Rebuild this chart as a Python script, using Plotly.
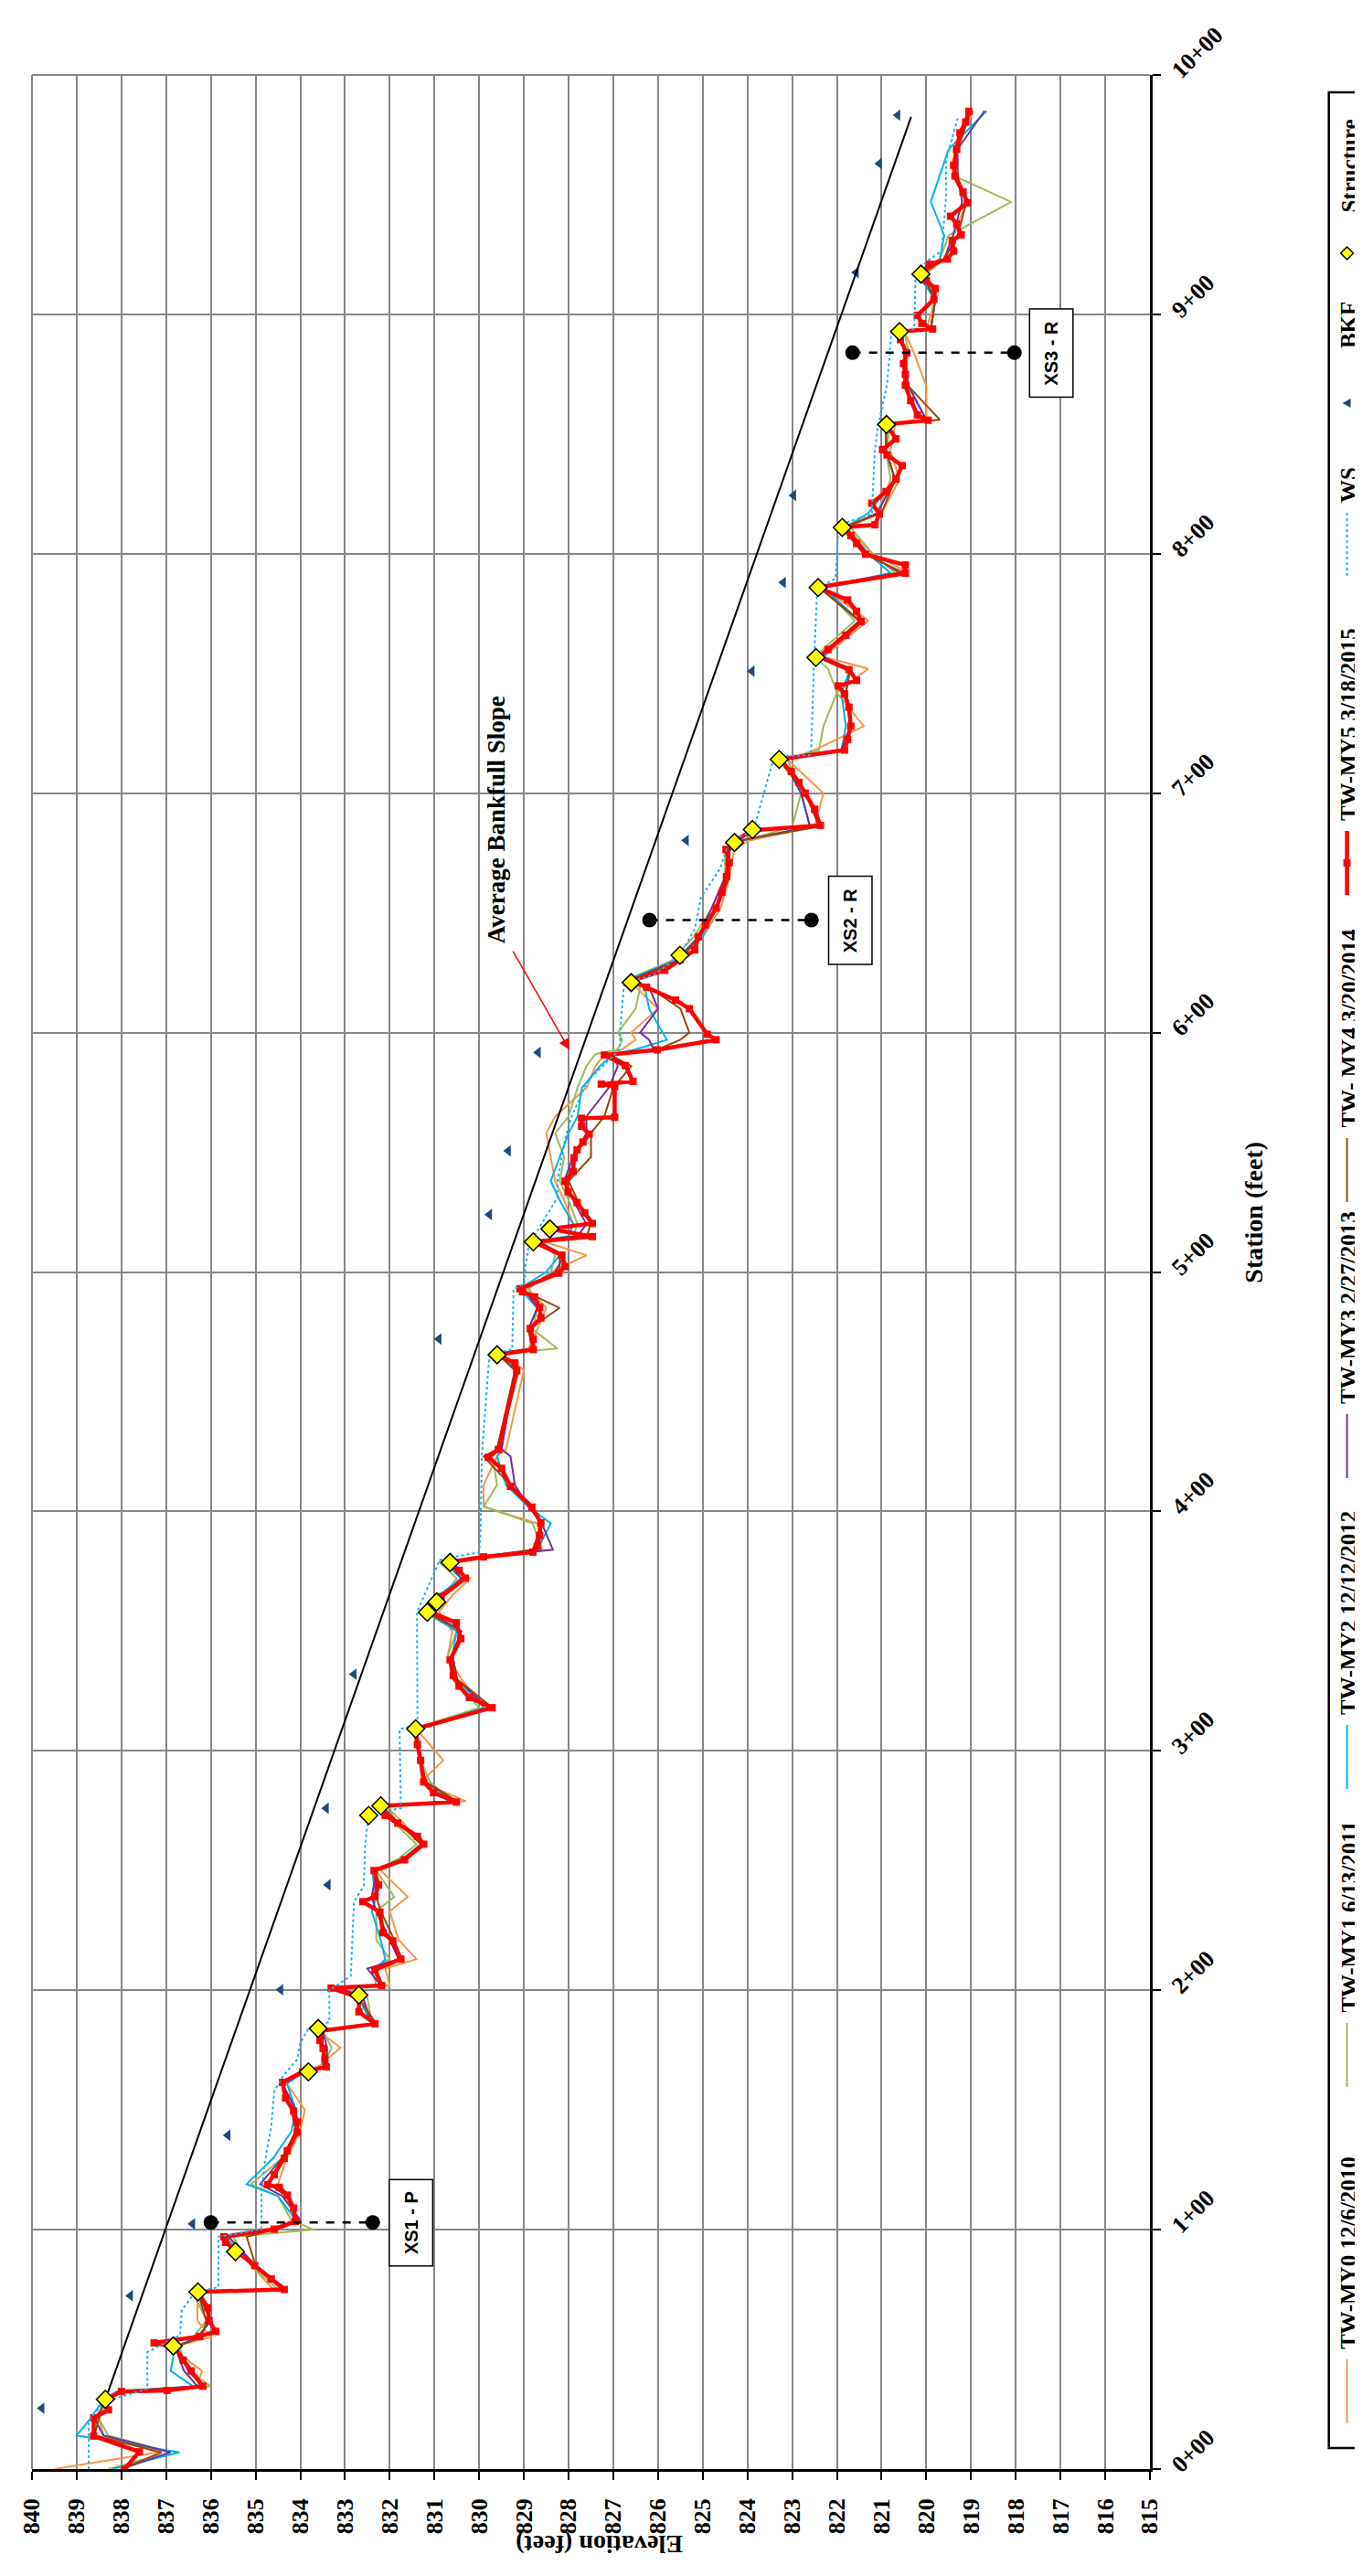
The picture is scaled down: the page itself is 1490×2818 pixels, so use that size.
import plotly.graph_objects as go

# ---------------- data ----------------
# Thalweg surveys (station ft, elevation ft)
STA_B = [0, 7, 14, 21, 29, 32.5, 34.6, 41, 51, 55, 62, 74, 75, 85, 97, 100, 104, 114, 119, 130,
         141, 150, 161, 166, 168, 176, 183, 186, 197, 201, 202, 209, 213, 221, 233, 239, 250, 255, 261, 270,
         277, 279, 287, 296, 309, 318, 330, 340, 350, 358, 365, 372, 379, 381, 384, 395, 402, 411, 423, 426,
         459, 466, 468, 476, 485, 493, 500, 507, 513, 515, 520, 530, 538, 548, 558, 565, 577, 586, 591, 593,
         597, 600, 610, 619, 622, 630, 640, 652, 665, 676, 680, 686, 700, 714, 718, 728, 742, 752, 757, 772,
         786, 792, 800, 811, 817, 831, 843, 854, 856, 870, 885, 893, 894, 906, 917, 923, 933, 947, 958, 969, 985]

MY0_E = [839.5, 837.2, 838.4, 838.5, 838.3, 838.1, 836.3, 836.2, 836.9, 836.0, 836.3, 836.3, 834.6, 835.1, 835.6, 834.5, 834.0, 834.4, 834.5, 834.3,
         834.0, 833.9, 834.3, 833.9, 833.6, 833.1, 833.6, 832.4, 832.6, 833.0, 832.0, 832.1, 831.4, 831.8, 832.0, 831.6, 832.2, 831.6, 831.3, 831.7,
         832.1, 830.3, 831.3, 830.8, 831.4, 829.9, 830.4, 830.7, 830.6, 830.9, 830.6, 830.2, 830.8, 830.1, 828.6, 828.7, 829.9, 829.9, 829.6, 829.4,
         829.0, 829.5, 828.9, 828.7, 828.5, 828.9, 828.4, 827.6, 828.6, 828.0, 827.9, 828.1, 828.3, 828.4, 828.5, 828.3, 827.6, 827.4, 827.2, 826.8,
         826.5, 826.6, 826.0, 826.5, 826.7, 825.6, 825.0, 824.6, 824.4, 824.3, 824.0, 822.5, 822.3, 823.1, 822.5, 821.4, 822.0, 821.3, 822.3, 821.3,
         822.3, 820.4, 821.2, 821.8, 821.0, 820.6, 820.8, 820.7, 820.0, 820.0, 820.3, 820.5, 820.0, 819.8, 820.0, 819.6, 819.4, 819.1, 819.3, 819.4, 818.95]

MY1_E = [838.3, 836.9, 838.3, 838.5, 838.3, 838.0, 836.0, 836.5, 836.7, 836.4, 836.1, 836.4, 834.5, 835.1, 835.5, 833.7, 834.2, 834.5, 835.1, 834.4,
         834.1, 834.1, 834.4, 833.8, 833.5, 833.3, 833.5, 832.4, 832.5, 832.9, 832.3, 832.4, 832.0, 832.3, 832.3, 831.9, 832.3, 831.8, 831.4, 831.9,
         832.0, 830.6, 831.1, 831.3, 831.5, 830.0, 830.6, 830.7, 830.5, 831.2, 830.8, 830.5, 830.9, 830.0, 828.6, 828.8, 829.9, 829.6, 829.7, 829.6,
         829.1, 829.5, 828.25, 828.8, 828.7, 828.9, 828.4, 828.3, 828.6, 827.9, 827.8, 828.0, 828.2, 828.1, 828.3, 828.0, 827.8, 827.6, 827.4, 826.9,
         826.8, 826.9, 826.5, 826.4, 826.7, 825.7, 825.2, 824.8, 824.5, 824.5, 824.1, 823.0, 822.8, 823.1, 822.4, 822.3, 822.0, 822.2, 822.5, 821.6,
         822.3, 820.7, 821.2, 821.7, 821.1, 820.8, 820.9, 820.8, 820.1, 820.5, 820.4, 820.5, 819.9, 819.8, 820.0, 819.7, 819.5, 818.1, 819.4, 819.3, 819.0]

MY2_E = [838.2, 836.7, 839.0, 838.7, 838.4, 838.1, 836.4, 836.9, 836.8, 836.3, 836.0, 836.3, 834.4, 835.0, 835.7, 834.7, 834.1, 834.5, 835.2, 834.6,
         834.2, 834.1, 834.3, 833.9, 833.5, 833.5, 833.6, 832.4, 832.7, 833.2, 832.2, 832.3, 832.1, 832.2, 832.4, 832.3, 832.4, 831.7, 831.3, 831.8,
         832.2, 830.6, 831.2, 831.3, 831.4, 829.9, 830.5, 830.6, 830.5, 831.2, 830.9, 830.4, 830.8, 830.0, 828.7, 828.4, 828.9, 829.4, 829.6, 829.5,
         829.2, 829.5, 828.8, 828.9, 828.7, 829.1, 828.5, 828.2, 828.7, 828.0, 827.9, 828.2, 828.4, 828.2, 828.0, 827.8, 827.7, 827.3, 827.0, 826.5,
         825.8, 825.9, 826.2, 826.3, 826.7, 825.6, 825.0, 824.7, 824.5, 824.4, 824.2, 822.6, 822.8, 823.2, 821.9, 821.8, 821.9, 821.7, 822.3, 821.5,
         822.3, 820.8, 821.3, 821.8, 821.3, 820.7, 820.9, 820.9, 820.0, 820.4, 820.5, 820.6, 819.9, 819.8, 820.2, 819.7, 819.6, 819.9, 819.7, 819.5, 818.65]

MY3_E = [838.0, 836.9, 838.4, 838.6, 838.3, 838.0, 836.3, 836.6, 836.8, 836.3, 836.0, 836.3, 834.3, 835.0, 835.6, 834.6, 834.0, 834.4, 834.9, 834.4,
         834.1, 834.1, 834.4, 833.9, 833.4, 833.4, 833.5, 832.4, 832.6, 833.1, 832.2, 832.5, 831.8, 832.0, 832.3, 832.4, 832.3, 831.7, 831.3, 831.8,
         832.2, 830.5, 831.2, 831.3, 831.4, 829.8, 830.5, 830.6, 830.4, 831.1, 830.8, 830.4, 830.7, 830.0, 828.35, 828.6, 828.9, 829.2, 829.3, 829.5,
         829.2, 829.6, 828.8, 828.9, 828.7, 829.0, 828.3, 828.1, 828.7, 827.8, 827.6, 827.9, 828.1, 827.9, 827.6, 827.6, 827.1, 826.9, 827.0, 826.1,
         826.2, 826.4, 826.0, 826.2, 826.6, 825.6, 825.1, 824.8, 824.5, 824.4, 824.2, 822.6, 822.8, 823.2, 821.9, 821.7, 821.8, 821.7, 822.4, 821.5,
         822.4, 820.6, 821.3, 821.8, 821.1, 820.7, 820.9, 820.9, 820.0, 820.4, 820.5, 820.6, 819.9, 819.8, 820.1, 819.6, 819.4, 819.2, 819.3, 819.3, 818.7]

MY4_E = [838.0, 837.1, 838.6, 838.5, 838.4, 838.0, 836.2, 836.5, 836.8, 836.2, 836.1, 836.3, 834.4, 835.0, 835.2, 834.6, 834.1, 834.3, 834.7, 834.4,
         834.1, 834.2, 834.4, 833.9, 833.4, 833.5, 833.5, 832.3, 832.7, 833.3, 832.2, 832.3, 831.8, 831.9, 832.2, 832.3, 832.3, 831.6, 831.3, 831.8,
         832.2, 830.5, 831.2, 831.3, 831.4, 829.7, 830.5, 830.6, 830.4, 831.2, 830.9, 830.3, 830.7, 830.0, 828.8, 828.6, 828.8, 829.3, 829.9, 829.6,
         829.2, 829.6, 828.8, 828.9, 828.2, 829.1, 828.2, 828.2, 828.8, 827.6, 827.5, 827.8, 828.0, 827.5, 827.5, 827.2, 827.0, 826.6, 827.1, 826.0,
         825.5, 825.3, 825.5, 826.2, 826.6, 825.5, 825.1, 824.7, 824.4, 824.4, 824.3, 822.4, 822.7, 823.3, 821.8, 821.7, 821.8, 821.7, 822.4, 821.5,
         822.4, 820.5, 821.4, 821.9, 821.0, 820.7, 820.9, 820.9, 819.7, 820.4, 820.5, 820.6, 819.9, 819.8, 820.1, 819.6, 819.3, 819.1, 819.4, 819.3, 819.0]

MY5_S = [0, 7.2, 13.8, 21.4, 24.7, 29, 32.4, 32.8, 34.6, 41, 45.5, 51, 52.7, 55.4, 57.5, 62, 67.4, 74, 75, 79.4,
         85, 90.4, 94.7, 97, 100.2, 103.5, 109, 114.4, 117.7, 118.8, 123, 129.8, 133, 140.7, 145, 149.5, 155, 161.5, 165.9, 168,
         171.3, 175.7, 179, 183, 186, 191, 197, 200.9, 202, 208.5, 213, 220.6, 224, 232.6, 237, 239.2, 244, 250, 254.5, 261,
         264.3, 269.8, 273, 277, 278.6, 282.5, 287, 296, 302.6, 309.2, 318, 322.3, 327, 331.5, 338, 346.9, 353.5, 358, 362.2, 364.4,
         372.1, 375.4, 378.7, 381, 383, 385.5, 390, 395.2, 401.8, 410.5, 418, 422.6, 425.9, 458.8, 462, 465.4, 467.6, 472, 476.4, 480.8,
         485.2, 489.6, 491.8, 493, 499.5, 502.3, 507.1, 512.6, 514.8, 518, 520.3, 524.7, 529, 533.5, 537.9, 542, 547.7, 551, 554.3, 557.6,
         560.9, 564.2, 564.6, 577.4, 578.5, 579.6, 586.2, 590.6, 592.8, 597, 599.3, 610, 613.6, 619, 621.7, 626, 630.4, 634.5, 640, 645,
         652, 658.6, 665.2, 671, 676.5, 680, 684.5, 686.5, 693.3, 700, 704.5, 709, 714.1, 718, 722.4, 728, 735.9, 741.5, 744.8, 747.1,
         751.6, 757, 760, 766, 771.7, 776, 780.7, 786, 791.9, 795.3, 799.8, 804.3, 807.6, 811, 812.1, 816.6, 821.1, 826, 831.2, 836.8,
         841.3, 843.5, 848, 854, 855.8, 858, 864, 870.4, 874.9, 879.4, 883.9, 889.5, 892.8, 893.9, 896.2, 899.6, 906.3, 910.8, 914.1, 916.8,
         920.9, 923.1, 926.5, 930.9, 933.2, 937.7, 941, 946.6, 951.1, 957.8, 962.3, 969, 975.8, 980.3, 984.8]
MY5_E = [837.93, 837.6, 838.62, 838.62, 838.29, 838.36, 838.0, 836.98, 836.18, 836.44, 836.62, 836.8, 837.27, 836.25, 835.89, 836.04, 836.07, 836.29, 834.36, 834.65,
         835.02, 835.38, 835.67, 835.71, 834.58, 834.11, 834.15, 834.29, 834.47, 834.73, 834.58, 834.36, 834.29, 834.07, 834.07, 834.15, 834.33, 834.4, 833.95, 833.42,
         833.45, 833.49, 833.56, 833.55, 832.33, 832.69, 832.69, 833.31, 832.18, 832.33, 831.75, 831.93, 832.15, 832.22, 832.6, 832.33, 832.25, 832.35, 831.67, 831.24,
         831.38, 831.82, 832.1, 832.2, 830.51, 831.02, 831.24, 831.31, 831.38, 831.42, 829.71, 830.22, 830.45, 830.58, 830.65, 830.41, 830.51, 831.1, 830.95, 830.85,
         830.31, 830.45, 830.65, 829.9, 828.8, 828.7, 828.65, 828.62, 828.82, 829.3, 829.5, 829.8, 829.57, 829.16, 829.2, 829.6, 828.79, 828.79, 828.86, 828.62,
         828.65, 828.76, 829.03, 829.09, 828.22, 828.08, 828.15, 828.79, 827.47, 828.42, 827.47, 827.64, 827.81, 828.01, 828.08, 827.9, 827.88, 827.81, 827.68, 827.54,
         827.71, 827.71, 826.97, 826.97, 827.27, 826.56, 826.73, 827.2, 826.02, 824.7, 824.9, 825.3, 825.61, 826.26, 826.6, 825.85, 825.51, 825.18, 825.1, 824.94,
         824.7, 824.57, 824.47, 824.41, 824.48, 824.29, 823.89, 822.37, 822.5, 822.71, 822.85, 823.02, 823.29, 821.83, 821.76, 821.69, 821.73, 821.83, 821.97, 821.56,
         821.73, 822.4, 822.2, 821.8, 821.46, 821.56, 821.76, 822.42, 820.47, 820.47, 821.36, 821.56, 821.69, 821.88, 821.15, 821.05, 821.22, 820.9, 820.68, 820.54,
         820.88, 820.98, 820.68, 820.89, 819.96, 820.2, 820.35, 820.47, 820.47, 820.51, 820.44, 820.58, 820.6, 819.86, 820.1, 820.2, 819.83, 819.8, 820.0, 820.12,
         819.93, 819.53, 819.39, 819.42, 819.22, 819.32, 819.46, 819.08, 819.18, 819.36, 819.39, 819.32, 819.25, 819.12, 819.05]

WS_S = [0, 20, 28, 33.5, 48.8, 56, 66.3, 74, 76, 97, 100.2, 114.4, 127.6, 143, 158, 164.8, 171, 178, 184.5, 186.7,
        200, 206, 237, 243.5, 261, 274, 276, 309, 311, 340, 357.9, 379.8, 383, 390.8, 423.7, 465.5, 467.7, 492.9, 495, 502.7,
        511.5, 531, 537.9, 555.4, 564.2, 577.4, 581.8, 592.8, 604.8, 620.2, 624.6, 632.3, 643.2, 656.4, 668.6, 679.8, 684.3, 715.5, 715.9, 756,
        785.2, 789.7, 812, 816.6, 843.5, 853.6, 870.4, 892.8, 893.9, 917.5, 922, 926.5, 948.9, 964.6, 971.3, 982.5]
WS_E = [838.73, 838.73, 838.4, 837.42, 837.42, 836.69, 836.65, 836.35, 835.83, 835.83, 834.87, 834.87, 834.8, 834.65, 834.58, 834.36, 834.07, 834.0, 833.8, 833.35,
        833.35, 832.87, 832.8, 832.58, 832.55, 832.47, 831.75, 831.78, 831.38, 831.38, 831.39, 830.88, 830.0, 829.97, 829.94, 829.77, 829.26, 829.23, 828.99, 828.96,
        828.89, 828.25, 828.25, 828.08, 827.95, 827.64, 827.47, 826.86, 826.83, 826.76, 826.05, 825.51, 825.18, 825.04, 824.61, 824.41, 823.87, 823.4, 822.58, 822.51,
        822.44, 822.03, 821.96, 821.22, 821.15, 821.08, 820.88, 820.78, 820.27, 820.24, 820.0, 819.66, 819.56, 819.56, 819.46, 819.29]

BKF_S = [25.4, 72.4, 102.4, 139.4, 200.2, 244, 276, 332, 472, 524, 550.6, 591.7, 680.3, 751, 788, 824.4, 917.5, 963, 983.2]
BKF_E = [839.78, 837.8, 836.41, 835.62, 834.44, 833.38, 833.42, 832.8, 830.9, 829.77, 829.35, 828.68, 825.37, 823.9, 823.2, 822.97, 821.57, 821.05, 820.64]

STR_S = [29.1, 51.4, 74, 90.8, 165.9, 184, 198, 273, 277, 309.2, 357.9, 362.2, 378.7, 465.4, 512.6, 518, 620.9, 632.3,
         679.4, 684.8, 714.1, 756.7, 785.9, 811, 854, 892.8, 916.8]
STR_E = [838.36, 836.84, 836.29, 835.45, 833.82, 833.6, 832.69, 832.47, 832.2, 831.42, 831.16, 830.95, 830.65, 829.6, 828.79, 828.42, 826.6, 825.51,
         824.29, 823.89, 823.29, 822.47, 822.42, 821.88, 820.89, 820.6, 820.12]

SLOPE_S = [29, 982.5]
SLOPE_E = [838.36, 820.34]

XS_NAMES = ["XS1 - P", "XS2 - R", "XS3 - R"]
XS_S = [103, 647, 884]
XS_LEFT_E = [836.0, 826.19, 821.65]
XS_RIGHT_E = [832.38, 822.57, 818.03]
XS_LABEL_E = [831.53, 821.7, 817.2]

ST_TICKS = [0, 100, 200, 300, 400, 500, 600, 700, 800, 900, 1000]
ST_LABELS = ["0+00", "1+00", "2+00", "3+00", "4+00", "5+00", "6+00", "7+00", "8+00", "9+00", "10+00"]

SERIES_NAMES = ["TW-MY0 12/6/2010", "TW-MY1 6/13/2011", "TW-MY2 12/12/2012", "TW-MY3 2/27/2013",
                "TW- MY4 3/20/2014", "TW-MY5 3/18/2015", "WS", "BKF", "Structure"]

# ---------------- figure ----------------
W, H = 1490, 2818
ML, MR, MT, MB = 19, 240, 74, 125
PW, PH = W - ML - MR, H - MT - MB

def XP(p):
    return (p - ML) / PW

def YP(p):
    return (H - MB - p) / PH

SERIF = "Liberation Serif"
SANS = "Liberation Sans"
C_MY0, C_MY1, C_MY2, C_MY3, C_MY4 = "#F79646", "#9BBB59", "#00B0F0", "#7030A0", "#984807"
C_MY5, C_WS, C_BKF, C_STR = "#FF0000", "#1FB0EE", "#1F497D", "#FFFF00"
GRID = "#878787"

fig = go.Figure()
for name, ev, col in [(SERIES_NAMES[0], MY0_E, C_MY0), (SERIES_NAMES[1], MY1_E, C_MY1),
                      (SERIES_NAMES[2], MY2_E, C_MY2), (SERIES_NAMES[3], MY3_E, C_MY3),
                      (SERIES_NAMES[4], MY4_E, C_MY4)]:
    fig.add_trace(go.Scatter(x=ev, y=STA_B, mode="lines", name=name,
                             line=dict(color=col, width=2)))
fig.add_trace(go.Scatter(x=MY5_E, y=MY5_S, mode="lines+markers", name=SERIES_NAMES[5],
                         line=dict(color=C_MY5, width=4.5),
                         marker=dict(symbol="square", size=8, color=C_MY5)))
fig.add_trace(go.Scatter(x=WS_E, y=WS_S, mode="lines", name=SERIES_NAMES[6],
                         line=dict(color=C_WS, width=2, dash="dot")))
fig.add_trace(go.Scatter(x=BKF_E, y=BKF_S, mode="markers", name=SERIES_NAMES[7],
                         marker=dict(symbol="triangle-left", size=11, color=C_BKF)))
fig.add_trace(go.Scatter(x=SLOPE_E, y=SLOPE_S, mode="lines", name="Average Bankfull Slope",
                         line=dict(color="black", width=2)))
fig.add_trace(go.Scatter(x=STR_E, y=STR_S, mode="markers", name=SERIES_NAMES[8],
                         marker=dict(symbol="diamond", size=15, color=C_STR,
                                     line=dict(color="black", width=1.5))))
for i in range(len(XS_NAMES)):
    fig.add_trace(go.Scatter(x=[XS_LEFT_E[i], XS_RIGHT_E[i]], y=[XS_S[i], XS_S[i]],
                             mode="lines+markers", name=XS_NAMES[i],
                             line=dict(color="black", width=2.5, dash="dash"),
                             marker=dict(symbol="circle", size=16, color="black")))

annotations = []
for i in range(len(XS_NAMES)):
    annotations.append(dict(x=XS_LABEL_E[i], y=XS_S[i], xref="x", yref="y", text=XS_NAMES[i],
                            showarrow=False, textangle=-90,
                            font=dict(family=SANS, size=20, color="black", weight="bold"),
                            bgcolor="white", bordercolor="black", borderwidth=1.5, borderpad=12))

# Average Bankfull Slope label + arrow
annotations.append(dict(x=829.62, y=636.5, xref="x", yref="y", text="Average Bankfull Slope",
                        showarrow=False, textangle=-90, yanchor="bottom",
                        font=dict(family=SERIF, size=27, color="black", weight="bold")))
annotations.append(dict(x=827.98, y=592.8, xref="x", yref="y", ax=829.26, ay=634.5,
                        axref="x", ayref="y", text="", showarrow=True, arrowhead=2,
                        arrowsize=1.6, arrowwidth=1.5, arrowcolor="red"))

# axis titles
annotations.append(dict(x=XP(1381), y=YP(1318), xref="paper", yref="paper", text="Station (feet)",
                        showarrow=False, textangle=-90,
                        font=dict(family=SERIF, size=28, color="black", weight="bold")))
annotations.append(dict(x=XP(643), y=YP(2793), xref="paper", yref="paper", text="Elevation (feet)",
                        showarrow=False, textangle=180,
                        font=dict(family=SERIF, size=28, color="black", weight="bold")))

shapes = []
# gray borders (left / top)
shapes.append(dict(type="line", xref="paper", yref="paper", x0=0, x1=0, y0=0, y1=1,
                   line=dict(color=GRID, width=2)))
shapes.append(dict(type="line", xref="paper", yref="paper", x0=0, x1=1, y0=1, y1=1,
                   line=dict(color=GRID, width=2)))

# custom rotated legend
LX = 1467
TX = 1469
LEG_FONT = dict(family=SERIF, size=25, color="black", weight="bold")
shapes.append(dict(type="rect", xref="paper", yref="paper", x0=XP(1447), x1=XP(1488),
                   y0=YP(2670), y1=YP(93), line=dict(color="black", width=2.5), fillcolor="white",
                   layer="below"))
leg_lines = [(2564, C_MY0, 2, None), (2196, C_MY1, 2, None), (1870, C_MY2, 2, None),
             (1530, C_MY3, 2, None), (1228, C_MY4, 2, None), (892, C_MY5, 4.5, None),
             (544, C_WS, 2, "dot")]
for k, (ts, col, wd, dash) in enumerate(leg_lines):
    ln = dict(color=col, width=wd)
    if dash:
        ln["dash"] = dash
    shapes.append(dict(type="line", xref="paper", yref="paper", x0=XP(LX), x1=XP(LX),
                       y0=YP(ts + 9), y1=YP(ts + 79), line=ln))
    annotations.append(dict(x=XP(TX), y=YP(ts), xref="paper", yref="paper", text=SERIES_NAMES[k],
                            showarrow=False, textangle=-90, yanchor="bottom", xanchor="center",
                            font=LEG_FONT))
# red square on MY5 sample
shapes.append(dict(type="rect", xref="paper", yref="paper", x0=XP(LX - 4), x1=XP(LX + 4),
                   y0=YP(936 - 4), y1=YP(936 + 4), line=dict(width=0), fillcolor=C_MY5))
# BKF triangle (pointing left)
shapes.append(dict(type="path", xref="paper", yref="paper",
                   path="M {a},{b} L {c},{d} L {e},{f} Z".format(
                       a=XP(LX - 5), b=YP(433), c=XP(LX + 4), d=YP(428), e=XP(LX + 4), f=YP(438)),
                   fillcolor=C_BKF, line=dict(width=0)))
annotations.append(dict(x=XP(TX), y=YP(375), xref="paper", yref="paper", text=SERIES_NAMES[7],
                        showarrow=False, textangle=-90, yanchor="bottom", xanchor="center",
                        font=LEG_FONT))
# Structure diamond
shapes.append(dict(type="path", xref="paper", yref="paper",
                   path="M {a},{b} L {c},{d} L {e},{f} L {g},{h} Z".format(
                       a=XP(LX - 7), b=YP(269), c=XP(LX), d=YP(262), e=XP(LX + 7), f=YP(269),
                       g=XP(LX), h=YP(276)),
                   fillcolor=C_STR, line=dict(color="black", width=1.5)))
annotations.append(dict(x=XP(TX), y=YP(227), xref="paper", yref="paper", text=SERIES_NAMES[8],
                        showarrow=False, textangle=-90, yanchor="bottom", xanchor="center",
                        font=LEG_FONT))

fig.update_layout(
    width=W, height=H,
    margin=dict(l=ML, r=MR, t=MT, b=MB, pad=0),
    paper_bgcolor="white", plot_bgcolor="white",
    showlegend=False,
    xaxis=dict(range=[840, 815], tick0=815, dtick=1, showgrid=True, gridcolor=GRID, gridwidth=1.5,
               zeroline=False, showline=True, linecolor="black", linewidth=2.5,
               ticks="outside", ticklen=9, tickwidth=2, tickcolor="black", tickangle=-90,
               ticklabelstandoff=10,
               tickfont=dict(family=SERIF, size=26, color="black", weight="bold")),
    yaxis=dict(range=[0, 1000], side="right", tickvals=ST_TICKS, ticktext=ST_LABELS,
               showgrid=True, gridcolor=GRID, gridwidth=1.5, zeroline=False,
               showline=True, linecolor="black", linewidth=2.5,
               ticks="outside", ticklen=9, tickwidth=2, tickcolor="black", tickangle=-45,
               ticklabelstandoff=8,
               tickfont=dict(family=SERIF, size=26, color="black", weight="bold")),
    annotations=annotations,
    shapes=shapes,
)

fig.write_html("out.html")
